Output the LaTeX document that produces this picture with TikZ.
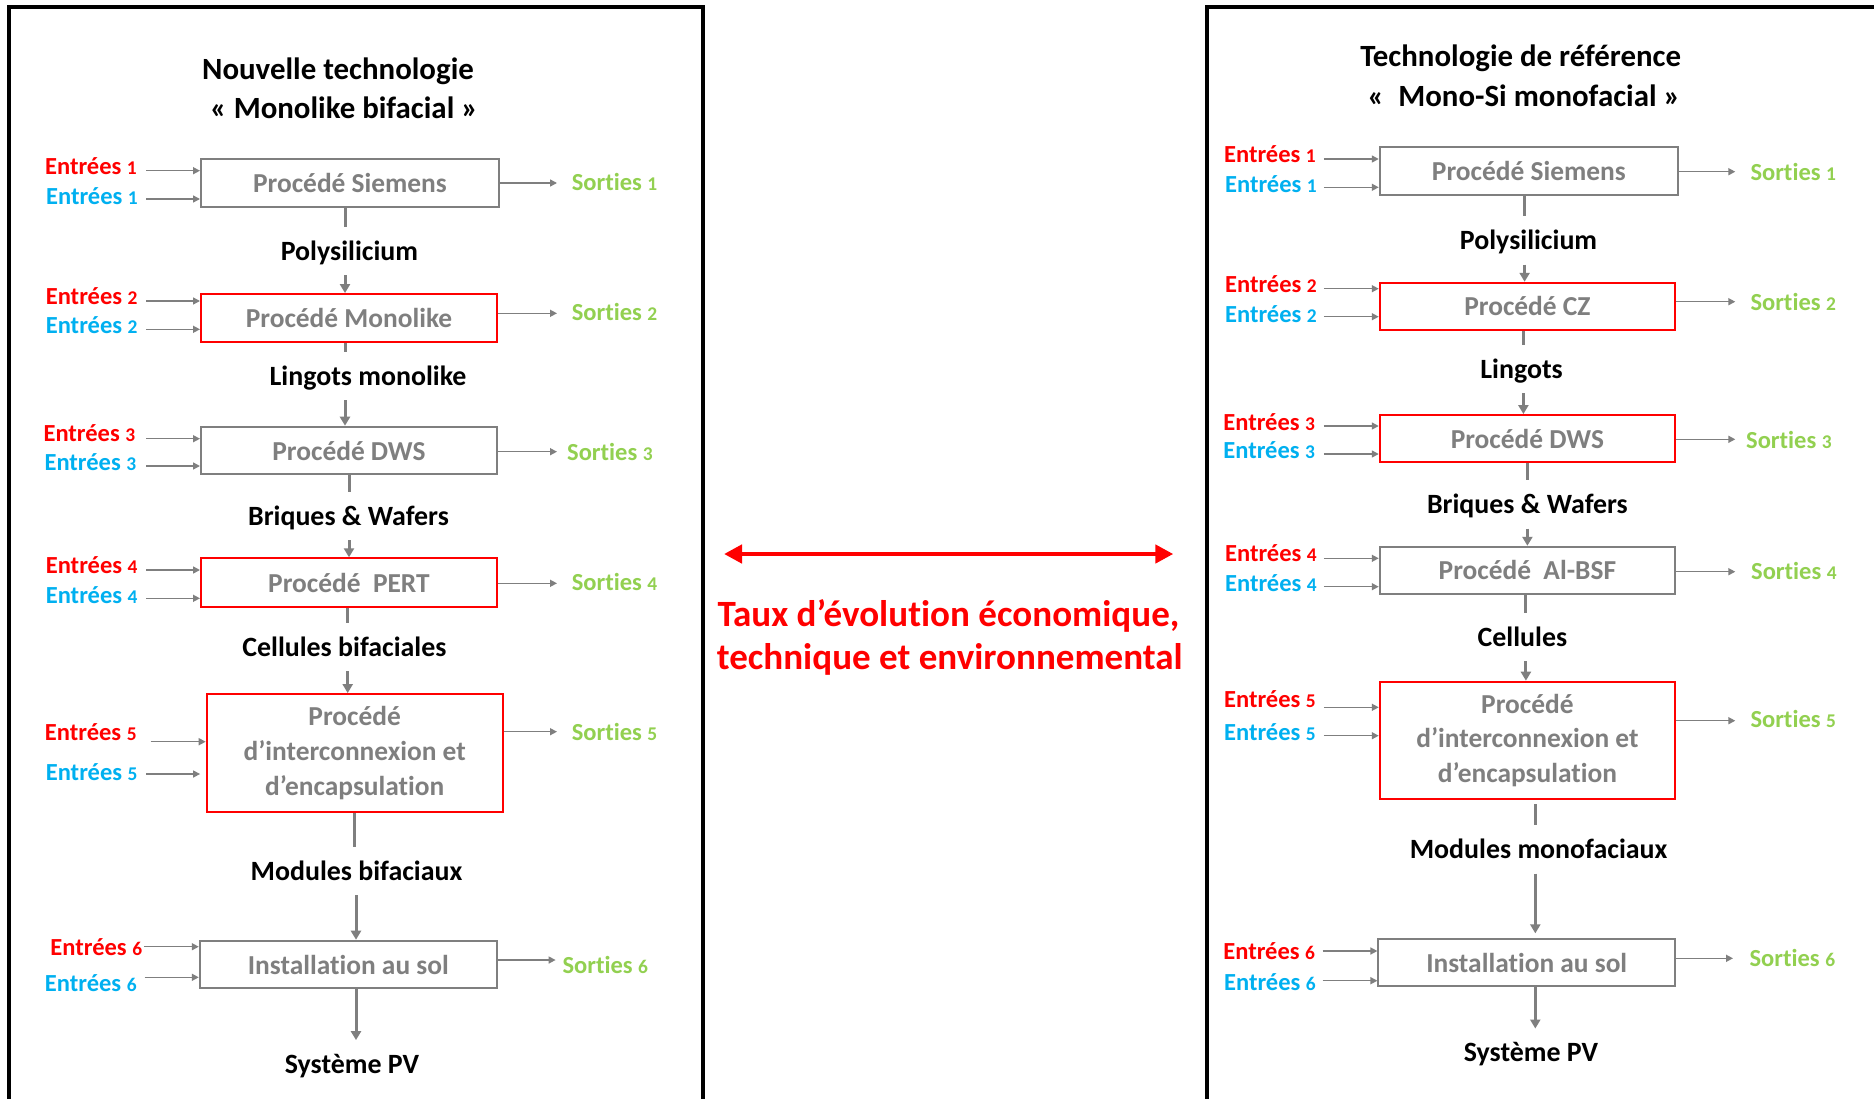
\documentclass[tikz,border=0pt]{standalone}
\usepackage{fontspec}
\setmainfont{Carlito}[Numbers=Lining, Ligatures=NoCommon]
\usetikzlibrary{arrows.meta}
\definecolor{cred}{HTML}{FF0000}
\definecolor{cblue}{HTML}{00B0F0}
\definecolor{cgreen}{HTML}{92D050}
\definecolor{cgrey}{HTML}{7F7F7F}
\newcommand\entnum[1]{{\fontsize{19.5}{19.5}\selectfont #1}}
\begin{document}
\begin{tikzpicture}[x=1bp,y=-1bp,
 procbox/.style={draw=cgrey, line width=2bp, text=cgrey, inner sep=0pt, align=center, font=\fontsize{27.5}{35}\selectfont\bfseries},
 redbox/.style={procbox, draw=cred},
 ttl/.style={anchor=base, inner sep=0pt, font=\fontsize{31}{31}\selectfont\bfseries},
 flowlab/.style={anchor=base, inner sep=0pt, text height=33bp, text depth=15bp, font=\fontsize{28}{28}\selectfont\bfseries},
 inlab/.style={anchor=base east, inner sep=0pt, font=\fontsize{24.6}{24.6}\selectfont\bfseries},
 outlab/.style={anchor=base west, inner sep=0pt, text=cgreen, font=\fontsize{24.6}{24.6}\selectfont\bfseries},
 inarr/.style={draw=cgrey, line width=1.5bp, -{Triangle[length=7bp,width=7bp]}},
 vline/.style={draw=cgrey, line width=3bp},
 varr/.style={vline, -{Triangle[length=9bp,width=10bp]}},
 midtxt/.style={anchor=base, inner sep=0pt, text=cred, font=\fontsize{37.2}{37.2}\selectfont\bfseries},
]
\useasboundingbox (0,0) rectangle (1874,1098);
\clip (0,0) rectangle (1874,1098);
\fill[white] (0,0) rectangle (1874,1098);

% frames
\draw[line width=4bp] (9,1120) -- (9,7) -- (702.5,7) -- (702.5,1120);
\draw[line width=4bp] (1207,1120) -- (1207,7) -- (1890,7);

% ---------------- left panel
\node[ttl] (lt1) at (338,79.3) {Nouvelle technologie};
\node[ttl] (lt2) at (344,118.3) {« Monolike bifacial »};

\node[procbox, minimum width=298bp, minimum height=48bp] (L1) at (350,183) {Procédé Siemens};
\node[redbox, minimum width=296bp, minimum height=47.7bp] (L2) at (349,317.9) {Procédé Monolike};
\node[procbox, minimum width=296bp, minimum height=47.6bp] (L3) at (349,450.5) {Procédé DWS};
\node[redbox, minimum width=296bp, minimum height=48.4bp] (L4) at (349,582.5) {Procédé\ \ PERT};
\node[redbox, minimum width=296bp, minimum height=117.7bp] (L5) at (354.7,752.9) {Procédé\\d’interconnexion et\\d’encapsulation};
\node[procbox, minimum width=297bp, minimum height=47.6bp] (L6) at (348.3,964.5) {Installation au sol};

\node[flowlab] (lp) at (349.4,260) {Polysilicium};
\node[flowlab] (ll) at (368,385) {Lingots monolike};
\node[flowlab] (lb) at (348.5,525) {Briques \& Wafers};
\node[flowlab] (lc) at (344.4,656) {Cellules bifaciales};
\node[flowlab] (lm) at (356.5,880) {Modules bifaciaux};
\node[flowlab] (ls) at (352,1073.3) {Système PV};

\draw[vline] ([xshift=-5bp]L1.south) -- ([xshift=-5bp]L1.south |- lp.north);
\draw[varr] ([xshift=-4bp]L2.north |- lp.south) -- ([xshift=-4bp]L2.north);
\draw[vline] ([xshift=-4bp]L2.south) -- ([xshift=-4bp]L2.south |- ll.north);
\draw[varr] ([xshift=-4bp]L3.north |- ll.south) -- ([xshift=-4bp]L3.north);
\draw[vline] (L3.south) -- (L3.south |- lb.north);
\draw[varr] (L4.north |- lb.south) -- (L4.north);
\draw[vline] ([xshift=-1.4bp]L4.south) -- ([xshift=-1.4bp]L4.south |- lc.north);
\draw[varr] ([xshift=-7bp]L5.north |- lc.south) -- ([xshift=-7bp]L5.north);
\draw[vline] (L5.south) -- (L5.south |- lm.north);
\draw[varr] ([xshift=7.7bp]L6.north |- lm.south) -- ([xshift=7.7bp]L6.north);
\draw[varr] ([xshift=7.7bp]L6.south) -- ([xshift=7.7bp]L6.south |- ls.north);

\foreach \nm/\cc/\x/\b/\ax/\ay/\bx/\num in {
  le1r/cred/137/174/146/170.7/L1/1,
  le1b/cblue/138/204/146/199/L1/1,
  le2r/cred/137.7/304/146/301/L2/2,
  le2b/cblue/137.7/333/146/329.3/L2/2,
  le3r/cred/135.4/441.7/146/438.7/L3/3,
  le3b/cblue/136.4/470.7/146/466/L3/3,
  le4r/cred/137.7/573.3/146/570/L4/4,
  le4b/cblue/137.7/603.3/146/598.3/L4/4,
  le5r/cred/136.8/740/150.6/741.7/L5/5,
  le6r/cred/142.3/955/144/946.7/L6/6,
  le6b/cblue/136.8/991.7/144.6/977.3/L6/6}
{
  \node[inlab, text=\cc] (\nm) at (\x,\b) {Entrées \entnum{\num}};
  \coordinate (\nm a) at (\ax,\ay);
  \draw[inarr] (\nm a) -- (\nm a -| \bx.west);
}
\node[inlab, text=cblue] (le5b) at (137.7,780) {Entrées \entnum{5}};
\coordinate (le5ba) at (146,774);
\draw[inarr, shorten >=5.6bp] (le5ba) -- (le5ba -| L5.west);

\foreach \nm/\x/\b/\ax/\ay/\bx/\num in {
  lo1/571.6/190.7/557/183/L1/1,
  lo2/571.6/320.7/557/313.3/L2/2,
  lo3/567/460/557/451.7/L3/3,
  lo4/571.6/590/557/583.3/L4/4,
  lo5/571.6/740/557/731.7/L5/5,
  lo6/562.4/973.3/555.6/960/L6/6}
{
  \node[outlab] (\nm) at (\x,\b) {Sorties \entnum{\num}};
  \coordinate (\nm a) at (\ax,\ay);
  \draw[inarr] (\nm a -| \bx.east) -- (\nm a);
}

% ---------------- middle
\coordinate (ma) at (724,554);
\coordinate (mb) at (1173.3,554);
\draw[cred, line width=4.5bp, {Triangle[length=18bp,width=18bp]}-{Triangle[length=18bp,width=18bp]}] (ma) -- (mb);
\node[midtxt] (m1) at (948.4,626.5) {Taux d’évolution économique,};
\node[midtxt] (m2) at (949.8,669) {technique et environnemental};

% ---------------- right panel
\node[ttl] (rt1) at (1520.7,66.7) {Technologie de référence};
\node[ttl] (rt2) at (1523.9,106) {«\ \ Mono-Si monofacial »};

\node[procbox, minimum width=298.3bp, minimum height=47.7bp] (R1) at (1528.9,171.2) {Procédé Siemens};
\node[redbox, minimum width=295.3bp, minimum height=47.3bp] (R2) at (1527.4,306.4) {Procédé CZ};
\node[redbox, minimum width=295.3bp, minimum height=47.3bp] (R3) at (1527.4,438.7) {Procédé DWS};
\node[procbox, minimum width=295.3bp, minimum height=47.3bp] (R4) at (1527.4,570.4) {Procédé\ \ Al-BSF};
\node[redbox, minimum width=295.3bp, minimum height=117.6bp] (R5) at (1527.4,740.5) {Procédé\\d’interconnexion et\\d’encapsulation};
\node[procbox, minimum width=296.6bp, minimum height=46.7bp] (R6) at (1526.7,962.7) {Installation au sol};

\node[flowlab] (rp) at (1528.5,249.3) {Polysilicium};
\node[flowlab] (rl) at (1521.6,378) {Lingots};
\node[flowlab] (rb) at (1527.4,513.3) {Briques \& Wafers};
\node[flowlab] (rc) at (1522.4,646) {Cellules};
\node[flowlab] (rm) at (1538.6,858.3) {Modules monofaciaux};
\node[flowlab] (rs) at (1531,1061.7) {Système PV};

\draw[vline] ([xshift=-4.3bp]R1.south) -- ([xshift=-4.3bp]R1.south |- rp.north);
\draw[varr] ([xshift=-2.8bp]R2.north |- rp.south) -- ([xshift=-2.8bp]R2.north);
\draw[vline] ([xshift=-4bp]R2.south) -- ([xshift=-4bp]R2.south |- rl.north);
\draw[varr] ([xshift=-4bp]R3.north |- rl.south) -- ([xshift=-4bp]R3.north);
\draw[vline] (R3.south) -- (R3.south |- rb.north);
\draw[varr] (R4.north |- rb.south) -- (R4.north);
\draw[vline] ([xshift=-1.5bp]R4.south) -- ([xshift=-1.5bp]R4.south |- rc.north);
\draw[varr] ([xshift=-1.5bp]R5.north |- rc.south) -- ([xshift=-1.5bp]R5.north);
\draw[vline, shorten <=4bp] ([xshift=8bp]R5.south) -- ([xshift=8bp]R5.south |- rm.north);
\draw[varr, shorten >=5bp] ([xshift=8.6bp]R6.north |- rm.south) -- ([xshift=8.6bp]R6.north);
\draw[varr] ([xshift=8.6bp]R6.south) -- ([xshift=8.6bp]R6.south |- rs.north);

\foreach \nm/\cc/\x/\b/\ax/\ay/\bx/\num in {
  re1r/cred/1316/162.7/1323.8/159/R1/1,
  re1b/cblue/1317/192.7/1323.8/187.3/R1/1,
  re2r/cred/1317/292.7/1323.8/288.7/R2/2,
  re2b/cblue/1317/322.7/1323.8/316.7/R2/2,
  re3r/cred/1315.2/430/1323.8/426/R3/3,
  re3b/cblue/1315.2/458.3/1323.8/454/R3/3,
  re4r/cred/1317/561.7/1323.8/558.3/R4/4,
  re4b/cblue/1317/591.7/1323.8/586.7/R4/4,
  re5r/cred/1316/707.3/1323.8/707.3/R5/5,
  re5b/cblue/1316/740/1323.8/735.7/R5/5,
  re6r/cred/1315.2/959.3/1322.5/951/R6/6,
  re6b/cblue/1316/990/1322.5/980.7/R6/6}
{
  \node[inlab, text=\cc] (\nm) at (\x,\b) {Entrées \entnum{\num}};
  \coordinate (\nm a) at (\ax,\ay);
  \draw[inarr] (\nm a) -- (\nm a -| \bx.west);
}

\foreach \nm/\x/\b/\ax/\ay/\bx/\num in {
  ro1/1750.3/180/1735.3/171.7/R1/1,
  ro2/1750.3/310/1735.3/301.7/R2/2,
  ro3/1746/448.3/1735.3/439.3/R3/3,
  ro4/1751/579.3/1735.3/571.7/R4/4,
  ro5/1750.3/727.3/1735.3/720.7/R5/5,
  ro6/1749.4/966/1733/958.3/R6/6}
{
  \node[outlab] (\nm) at (\x,\b) {Sorties \entnum{\num}};
  \coordinate (\nm a) at (\ax,\ay);
  \draw[inarr] (\nm a -| \bx.east) -- (\nm a);
}
\end{tikzpicture}
\end{document}
